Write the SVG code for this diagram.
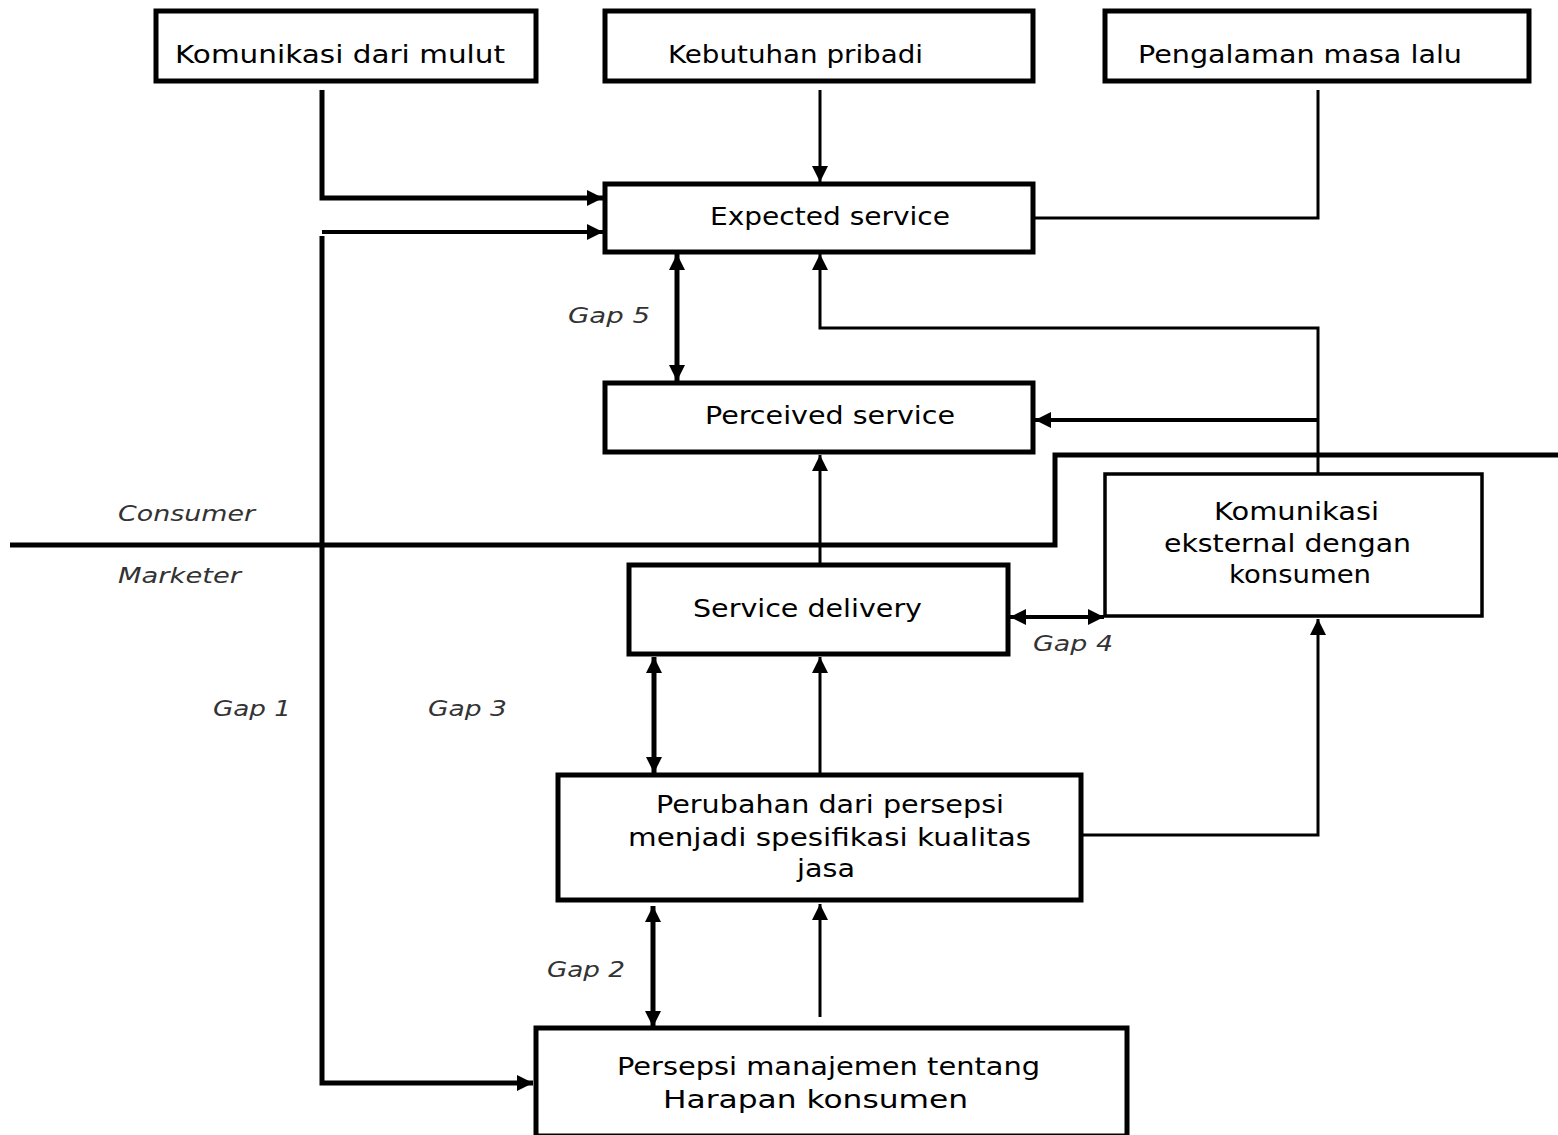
<svg xmlns="http://www.w3.org/2000/svg" width="1558" height="1135" viewBox="0 0 1558 1135">
  <style>
    .box { fill: #fff; stroke: #000; stroke-width: 5; }
    .box-thin { fill: #fff; stroke: #000; stroke-width: 3.5; }
    .label { font-family: "DejaVu Sans", "Liberation Sans", sans-serif; font-size: 25px; fill: #000; }
    .gap { font-family: "DejaVu Sans", "Liberation Sans", sans-serif; font-size: 22px; font-style: italic; fill: #333; }
    .wire { fill: none; stroke: #000; stroke-linejoin: miter; stroke-linecap: butt; }
    .w3 { stroke-width: 3; }
    .w4 { stroke-width: 4; }
    .w5 { stroke-width: 5; }
  </style>
  <defs>
    <marker id="head" viewBox="0 0 16 16" refX="16" refY="8" markerWidth="16" markerHeight="16" markerUnits="userSpaceOnUse" orient="auto-start-reverse">
      <path d="M0,0 L16,8 L0,16 Z" fill="#000"/>
    </marker>
  </defs>

  <!-- connectors -->
  <g id="connectors">
    <!-- word of mouth into expected service -->
    <path class="wire w5" d="M322,90 V198 H603" marker-end="url(#head)"/>
    <!-- gap 1: management perception linked to expected service -->
    <path class="wire w4" d="M322,232 H603" marker-end="url(#head)"/>
    <path class="wire w5" d="M322,236 V1083 H533" marker-end="url(#head)"/>
    <!-- personal needs -->
    <path class="wire w3" d="M820,90 V182" marker-end="url(#head)"/>
    <!-- past experience -->
    <path class="wire w3" d="M1318,90 V218 H1035"/>
    <!-- external communication to expected service -->
    <path class="wire w3" d="M1318,473 V328 H820 V254" marker-end="url(#head)"/>
    <!-- external communication to perceived service -->
    <path class="wire w4" d="M1318,420 H1035" marker-end="url(#head)"/>
    <!-- gap 5 -->
    <path class="wire w5" d="M677,254 V381" marker-start="url(#head)" marker-end="url(#head)"/>
    <!-- service delivery to perceived service -->
    <path class="wire w3" d="M820,563 V455" marker-end="url(#head)"/>
    <!-- gap 4 -->
    <path class="wire w4" d="M1010,617 H1104" marker-start="url(#head)" marker-end="url(#head)"/>
    <!-- specification to service delivery -->
    <path class="wire w3" d="M820,773 V657" marker-end="url(#head)"/>
    <!-- gap 3 -->
    <path class="wire w5" d="M654,657 V773" marker-start="url(#head)" marker-end="url(#head)"/>
    <!-- specification to external communication -->
    <path class="wire w3" d="M1082,835 H1318 V619" marker-end="url(#head)"/>
    <!-- management perception to specification -->
    <path class="wire w3" d="M820,1017 V904" marker-end="url(#head)"/>
    <!-- gap 2 -->
    <path class="wire w5" d="M653,906 V1027" marker-start="url(#head)" marker-end="url(#head)"/>
    <!-- consumer / marketer boundary -->
    <path class="wire w5" d="M10,545 H1055 V455 H1558"/>
  </g>

  <!-- nodes -->
  <g id="wom">
    <rect class="box" x="156" y="11" width="380" height="70"/>
    <text class="label" x="175" y="63" textLength="330" lengthAdjust="spacingAndGlyphs">Komunikasi dari mulut</text>
  </g>
  <g id="needs">
    <rect class="box" x="605" y="11" width="428" height="70"/>
    <text class="label" x="668" y="63" textLength="255" lengthAdjust="spacingAndGlyphs">Kebutuhan pribadi</text>
  </g>
  <g id="past">
    <rect class="box" x="1105" y="11" width="424" height="70"/>
    <text class="label" x="1138" y="63" textLength="324" lengthAdjust="spacingAndGlyphs">Pengalaman masa lalu</text>
  </g>
  <g id="expected">
    <rect class="box" x="605" y="184" width="428" height="68"/>
    <text class="label" x="710" y="225" textLength="240" lengthAdjust="spacingAndGlyphs">Expected service</text>
  </g>
  <g id="perceived">
    <rect class="box" x="605" y="383" width="428" height="69"/>
    <text class="label" x="705" y="424" textLength="250" lengthAdjust="spacingAndGlyphs">Perceived service</text>
  </g>
  <g id="delivery">
    <rect class="box" x="629" y="565" width="379" height="89"/>
    <text class="label" x="693" y="617" textLength="229" lengthAdjust="spacingAndGlyphs">Service delivery</text>
  </g>
  <g id="external">
    <rect class="box-thin" x="1105" y="474" width="377" height="142"/>
    <text class="label" x="1214" y="520" textLength="165" lengthAdjust="spacingAndGlyphs">Komunikasi</text>
    <text class="label" x="1164" y="552" textLength="247" lengthAdjust="spacingAndGlyphs">eksternal dengan</text>
    <text class="label" x="1229" y="583" textLength="142" lengthAdjust="spacingAndGlyphs">konsumen</text>
  </g>
  <g id="specification">
    <rect class="box" x="558" y="775" width="523" height="125"/>
    <text class="label" x="656" y="813" textLength="348" lengthAdjust="spacingAndGlyphs">Perubahan dari persepsi</text>
    <text class="label" x="628" y="846" textLength="403" lengthAdjust="spacingAndGlyphs">menjadi spesifikasi kualitas</text>
    <text class="label" x="797" y="877" textLength="58" lengthAdjust="spacingAndGlyphs">jasa</text>
  </g>
  <g id="management">
    <rect class="box" x="536" y="1028" width="591" height="108"/>
    <text class="label" x="617" y="1075" textLength="423" lengthAdjust="spacingAndGlyphs">Persepsi manajemen tentang</text>
    <text class="label" x="663" y="1108" textLength="305" lengthAdjust="spacingAndGlyphs">Harapan konsumen</text>
  </g>

  <!-- gap and side labels -->
  <g id="labels">
    <text class="gap" x="568" y="323" textLength="82" lengthAdjust="spacingAndGlyphs">Gap 5</text>
    <text class="gap" x="118" y="521" textLength="137" lengthAdjust="spacingAndGlyphs">Consumer</text>
    <text class="gap" x="118" y="583" textLength="123" lengthAdjust="spacingAndGlyphs">Marketer</text>
    <text class="gap" x="1033" y="651" textLength="80" lengthAdjust="spacingAndGlyphs">Gap 4</text>
    <text class="gap" x="213" y="716" textLength="78" lengthAdjust="spacingAndGlyphs">Gap 1</text>
    <text class="gap" x="428" y="716" textLength="79" lengthAdjust="spacingAndGlyphs">Gap 3</text>
    <text class="gap" x="547" y="977" textLength="78" lengthAdjust="spacingAndGlyphs">Gap 2</text>
  </g>
</svg>
